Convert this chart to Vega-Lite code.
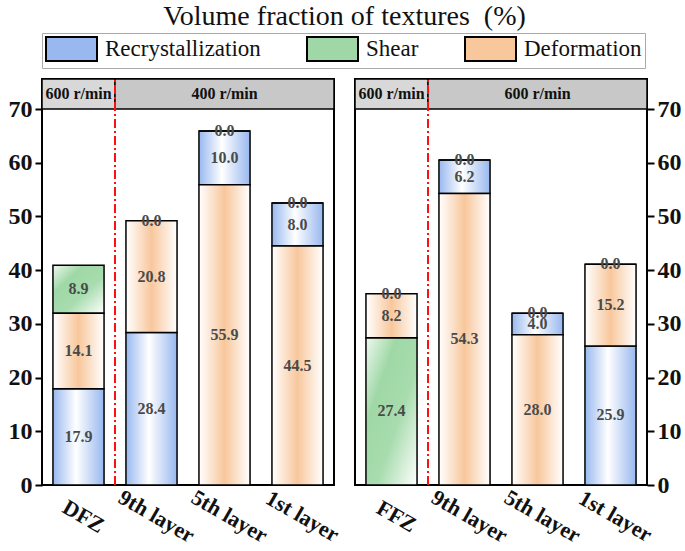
{
  "$schema": "https://vega.github.io/schema/vega-lite/v6.json",
  "padding": {"left": 7, "right": 0, "top": 2, "bottom": 2},
  "background": "white",
  "title": {"text": "Volume fraction of textures\u00a0\u00a0(%)", "anchor": "middle", "font": "Liberation Serif", "fontSize": 28, "fontWeight": "normal", "color": "#111", "offset": 2},
  "datasets": {
    "bars": [
      {"panel": "L", "site": "DFZ", "type": "Recrystallization", "value": 17.9, "ord": 1},
      {"panel": "L", "site": "DFZ", "type": "Deformation", "value": 14.1, "ord": 2},
      {"panel": "L", "site": "DFZ", "type": "Shear", "value": 8.9, "ord": 3},
      {"panel": "L", "site": "9th layer", "type": "Recrystallization", "value": 28.4, "ord": 1},
      {"panel": "L", "site": "9th layer", "type": "Deformation", "value": 20.8, "ord": 2},
      {"panel": "L", "site": "9th layer", "type": "Shear", "value": 0.0, "ord": 3},
      {"panel": "L", "site": "5th layer", "type": "Deformation", "value": 55.9, "ord": 1},
      {"panel": "L", "site": "5th layer", "type": "Recrystallization", "value": 10.0, "ord": 2},
      {"panel": "L", "site": "5th layer", "type": "Shear", "value": 0.0, "ord": 3},
      {"panel": "L", "site": "1st layer", "type": "Deformation", "value": 44.5, "ord": 1},
      {"panel": "L", "site": "1st layer", "type": "Recrystallization", "value": 8.0, "ord": 2},
      {"panel": "L", "site": "1st layer", "type": "Shear", "value": 0.0, "ord": 3},
      {"panel": "R", "site": "FFZ", "type": "Shear", "value": 27.4, "ord": 1},
      {"panel": "R", "site": "FFZ", "type": "Deformation", "value": 8.2, "ord": 2},
      {"panel": "R", "site": "FFZ", "type": "Recrystallization", "value": 0.0, "ord": 3},
      {"panel": "R", "site": "9th layer", "type": "Deformation", "value": 54.3, "ord": 1},
      {"panel": "R", "site": "9th layer", "type": "Recrystallization", "value": 6.2, "ord": 2},
      {"panel": "R", "site": "9th layer", "type": "Shear", "value": 0.0, "ord": 3},
      {"panel": "R", "site": "5th layer", "type": "Deformation", "value": 28.0, "ord": 1},
      {"panel": "R", "site": "5th layer", "type": "Recrystallization", "value": 4.0, "ord": 2},
      {"panel": "R", "site": "5th layer", "type": "Shear", "value": 0.0, "ord": 3},
      {"panel": "R", "site": "1st layer", "type": "Recrystallization", "value": 25.9, "ord": 1},
      {"panel": "R", "site": "1st layer", "type": "Deformation", "value": 15.2, "ord": 2},
      {"panel": "R", "site": "1st layer", "type": "Shear", "value": 0.0, "ord": 3}
    ],
    "headers": [
      {"panel": "L", "label": "600 r/min", "start": 0, "end": 1},
      {"panel": "L", "label": "400 r/min", "start": 1, "end": 4},
      {"panel": "R", "label": "600 r/min", "start": 0, "end": 1},
      {"panel": "R", "label": "600 r/min", "start": 1, "end": 4}
    ]
  },
  "config": {
    "view": {"stroke": "black", "strokeWidth": 2},
    "font": "Liberation Serif"
  },
  "bounds": "flush",
  "spacing": 21,
  "resolve": {"scale": {"fill": "shared"}, "legend": {"fill": "shared"}},
  "hconcat": [
    {
      "width": 292, "height": 406,
      "layer": [
        {
          "data": {"name": "headers"},
          "transform": [{"filter": "datum.panel === 'L'"}, {"calculate": "(datum.start + datum.end) / 2", "as": "mid"}],
          "layer": [
            {
              "mark": {"type": "rect", "stroke": "black", "strokeWidth": 1.5},
              "encoding": {
                "x": {"field": "start", "type": "quantitative", "scale": {"domain": [0, 4], "nice": false, "zero": false}, "axis": null},
                "x2": {"field": "end"},
                "y": {"datum": 70, "type": "quantitative"},
                "y2": {"datum": 75.6},
                "fill": {"condition": {"test": "datum.start === 0", "value": "#d8d8d8"}, "value": "#c8c8c8"}
              }
            },
            {
              "mark": {"type": "text", "font": "Liberation Serif", "fontWeight": "bold", "fontSize": 16, "color": "#111", "baseline": "middle"},
              "encoding": {
                "x": {"field": "mid", "type": "quantitative"},
                "y": {"datum": 72.8, "type": "quantitative"},
                "text": {"field": "label"}
              }
            },
            {
              "mark": {"type": "rule", "color": "#ff1010", "strokeWidth": 2, "strokeDash": [9, 3, 2, 3]},
              "encoding": {
                "x": {"datum": 1, "type": "quantitative"},
                "y": {"datum": 0, "type": "quantitative"},
                "y2": {"datum": 75.6}
              }
            }
          ]
        },
        {
          "data": {"name": "bars"},
          "transform": [
            {"filter": "datum.panel === 'L'"},
            {"stack": "value", "groupby": ["site"], "sort": [{"field": "ord", "order": "ascending"}], "as": ["y0", "y1"]},
            {"calculate": "(datum.y0 + datum.y1) / 2", "as": "ymid"}
          ],
          "encoding": {
            "x": {"field": "site", "type": "nominal", "sort": ["DFZ", "9th layer", "5th layer", "1st layer"], "scale": {"paddingInner": 0.3, "paddingOuter": 0.15},
              "axis": {"orient": "bottom", "title": null, "labelAngle": 30, "labelAlign": "center", "labelBaseline": "middle", "labelPadding": 31, "labelOffset": 5, "ticks": false, "domain": false, "labelFont": "Liberation Serif", "labelFontWeight": "bold", "labelFontSize": 22, "labelColor": "#111"}},
            "y": {"field": "y0", "type": "quantitative", "scale": {"domain": [0, 75.6], "nice": false},
              "axis": {"title": null, "orient": "left", "values": [0, 10, 20, 30, 40, 50, 60, 70], "grid": false, "domain": false, "tickSize": 7, "tickWidth": 2, "tickColor": "black", "labelFont": "Liberation Serif", "labelFontWeight": "bold", "labelFontSize": 24, "labelColor": "#111", "labelPadding": 3}},
            "y2": {"field": "y1"}
          },
          "layer": [
            {
              "mark": {"type": "bar", "fillOpacity": 0, "strokeOpacity": 0},
              "encoding": {
                "fill": {"field": "type", "type": "nominal",
                  "scale": {"domain": ["Recrystallization", "Shear", "Deformation"], "range": ["#98b8ef", "#9fd8a6", "#f8c79c"]},
                  "legend": {"title": null, "orient": "top", "direction": "horizontal", "symbolType": "M-1,-1H3.25V1H-1Z", "symbolSize": 576, "symbolStrokeColor": "black", "symbolStrokeWidth": 2, "symbolOpacity": 1, "labelFont": "Liberation Serif", "labelFontSize": 23, "labelColor": "#111", "labelLimit": 300, "columnPadding": 42, "labelOffset": 34, "strokeColor": "#aaaaaa", "fillColor": "white", "padding": 3, "offset": 9,
                    "encode": {"symbols": {"update": {
                      "fillOpacity": {"value": 1},
                      "strokeOpacity": {"value": 1},
                      "stroke": {"value": "black"},
                      "fill": [
                        {"test": "datum.value === 'Recrystallization'", "value": {"gradient": "linear", "x1": 0, "y1": 0, "x2": 1, "y2": 0, "stops": [{"offset": 0, "color": "#98b8ef"}, {"offset": 0.45, "color": "#ffffff"}, {"offset": 1, "color": "#98b8ef"}]}},
                        {"test": "datum.value === 'Shear'", "value": {"gradient": "linear", "x1": 0, "y1": 0, "x2": 1, "y2": 1, "stops": [{"offset": 0, "color": "#eef8ef"}, {"offset": 0.3, "color": "#9fd8a6"}, {"offset": 0.6, "color": "#a8dcae"}, {"offset": 1, "color": "#ffffff"}]}},
                        {"value": {"gradient": "linear", "x1": 0, "y1": 0, "x2": 1, "y2": 0, "stops": [{"offset": 0, "color": "#ffffff"}, {"offset": 0.5, "color": "#f8c79c"}, {"offset": 1, "color": "#ffffff"}]}}
                      ]
                    }}}}
                }
              }
            },
            {
              "transform": [{"filter": "datum.type === 'Recrystallization'"}],
              "mark": {"type": "bar", "stroke": "black", "strokeWidth": 1.5, "color": {"gradient": "linear", "x1": 0, "y1": 0, "x2": 1, "y2": 0, "stops": [{"offset": 0, "color": "#98b8ef"}, {"offset": 0.45, "color": "#ffffff"}, {"offset": 1, "color": "#98b8ef"}]}}
            },
            {
              "transform": [{"filter": "datum.type === 'Shear'"}],
              "mark": {"type": "bar", "stroke": "black", "strokeWidth": 1.5, "color": {"gradient": "linear", "x1": 0, "y1": 0, "x2": 1, "y2": 1, "stops": [{"offset": 0, "color": "#eef8ef"}, {"offset": 0.3, "color": "#9fd8a6"}, {"offset": 0.6, "color": "#a8dcae"}, {"offset": 1, "color": "#ffffff"}]}}
            },
            {
              "transform": [{"filter": "datum.type === 'Deformation'"}],
              "mark": {"type": "bar", "stroke": "black", "strokeWidth": 1.5, "color": {"gradient": "linear", "x1": 0, "y1": 0, "x2": 1, "y2": 0, "stops": [{"offset": 0, "color": "#ffffff"}, {"offset": 0.5, "color": "#f8c79c"}, {"offset": 1, "color": "#ffffff"}]}}
            },
            {
              "mark": {"type": "text", "font": "Liberation Serif", "fontWeight": "bold", "fontSize": 16, "color": "#4a4a4a", "baseline": "middle"},
              "encoding": {
                "y": {"field": "ymid", "type": "quantitative"},
                "y2": null,
                "text": {"field": "value", "format": ".1f"}
              }
            }
          ]
        }
      ],
      "resolve": {"scale": {"x": "independent"}}
    },
    {
      "width": 292, "height": 406,
      "layer": [
        {
          "data": {"name": "headers"},
          "transform": [{"filter": "datum.panel === 'R'"}, {"calculate": "(datum.start + datum.end) / 2", "as": "mid"}],
          "layer": [
            {
              "mark": {"type": "rect", "stroke": "black", "strokeWidth": 1.5},
              "encoding": {
                "x": {"field": "start", "type": "quantitative", "scale": {"domain": [0, 4], "nice": false, "zero": false}, "axis": null},
                "x2": {"field": "end"},
                "y": {"datum": 70, "type": "quantitative"},
                "y2": {"datum": 75.6},
                "fill": {"condition": {"test": "datum.start === 0", "value": "#d8d8d8"}, "value": "#c8c8c8"}
              }
            },
            {
              "mark": {"type": "text", "font": "Liberation Serif", "fontWeight": "bold", "fontSize": 16, "color": "#111", "baseline": "middle"},
              "encoding": {
                "x": {"field": "mid", "type": "quantitative"},
                "y": {"datum": 72.8, "type": "quantitative"},
                "text": {"field": "label"}
              }
            },
            {
              "mark": {"type": "rule", "color": "#ff1010", "strokeWidth": 2, "strokeDash": [9, 3, 2, 3]},
              "encoding": {
                "x": {"datum": 1, "type": "quantitative"},
                "y": {"datum": 0, "type": "quantitative"},
                "y2": {"datum": 75.6}
              }
            }
          ]
        },
        {
          "data": {"name": "bars"},
          "transform": [
            {"filter": "datum.panel === 'R'"},
            {"stack": "value", "groupby": ["site"], "sort": [{"field": "ord", "order": "ascending"}], "as": ["y0", "y1"]},
            {"calculate": "(datum.y0 + datum.y1) / 2", "as": "ymid"}
          ],
          "encoding": {
            "x": {"field": "site", "type": "nominal", "sort": ["FFZ", "9th layer", "5th layer", "1st layer"], "scale": {"paddingInner": 0.3, "paddingOuter": 0.15},
              "axis": {"orient": "bottom", "title": null, "labelAngle": 30, "labelAlign": "center", "labelBaseline": "middle", "labelPadding": 31, "labelOffset": 5, "ticks": false, "domain": false, "labelFont": "Liberation Serif", "labelFontWeight": "bold", "labelFontSize": 22, "labelColor": "#111"}},
            "y": {"field": "y0", "type": "quantitative", "scale": {"domain": [0, 75.6], "nice": false},
              "axis": {"title": null, "orient": "right", "values": [0, 10, 20, 30, 40, 50, 60, 70], "grid": false, "domain": false, "tickSize": 7, "tickWidth": 2, "tickColor": "black", "labelFont": "Liberation Serif", "labelFontWeight": "bold", "labelFontSize": 24, "labelColor": "#111", "labelPadding": 3}},
            "y2": {"field": "y1"}
          },
          "layer": [
            {
              "transform": [{"filter": "datum.type === 'Recrystallization'"}],
              "mark": {"type": "bar", "stroke": "black", "strokeWidth": 1.5, "color": {"gradient": "linear", "x1": 0, "y1": 0, "x2": 1, "y2": 0, "stops": [{"offset": 0, "color": "#98b8ef"}, {"offset": 0.45, "color": "#ffffff"}, {"offset": 1, "color": "#98b8ef"}]}}
            },
            {
              "transform": [{"filter": "datum.type === 'Shear'"}],
              "mark": {"type": "bar", "stroke": "black", "strokeWidth": 1.5, "color": {"gradient": "linear", "x1": 0, "y1": 0, "x2": 1, "y2": 1, "stops": [{"offset": 0, "color": "#eef8ef"}, {"offset": 0.3, "color": "#9fd8a6"}, {"offset": 0.6, "color": "#a8dcae"}, {"offset": 1, "color": "#ffffff"}]}}
            },
            {
              "transform": [{"filter": "datum.type === 'Deformation'"}],
              "mark": {"type": "bar", "stroke": "black", "strokeWidth": 1.5, "color": {"gradient": "linear", "x1": 0, "y1": 0, "x2": 1, "y2": 0, "stops": [{"offset": 0, "color": "#ffffff"}, {"offset": 0.5, "color": "#f8c79c"}, {"offset": 1, "color": "#ffffff"}]}}
            },
            {
              "mark": {"type": "text", "font": "Liberation Serif", "fontWeight": "bold", "fontSize": 16, "color": "#4a4a4a", "baseline": "middle"},
              "encoding": {
                "y": {"field": "ymid", "type": "quantitative"},
                "y2": null,
                "text": {"field": "value", "format": ".1f"}
              }
            }
          ]
        }
      ],
      "resolve": {"scale": {"x": "independent"}}
    }
  ]
}
